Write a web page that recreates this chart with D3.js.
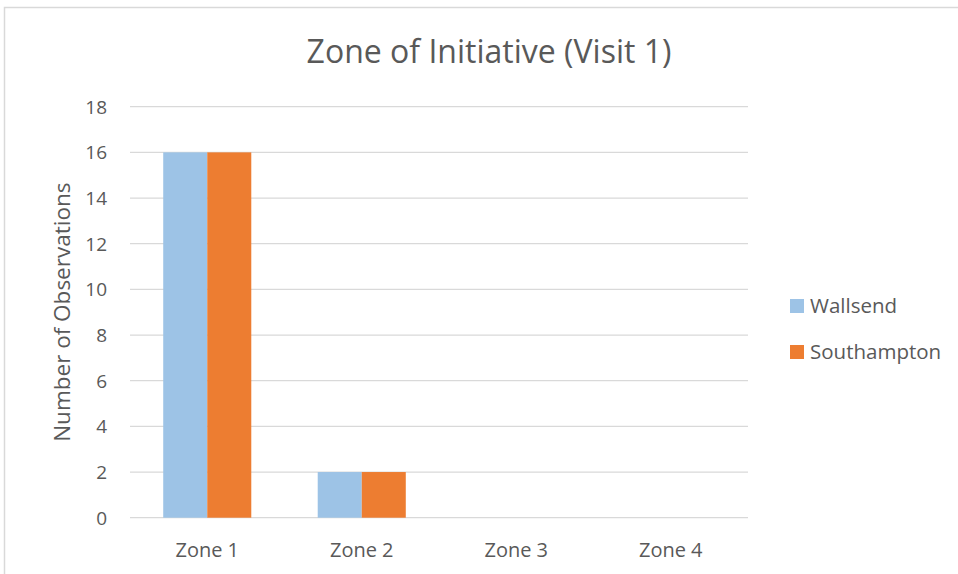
<!DOCTYPE html>
<html>
<head>
<meta charset="utf-8">
<script src="https://cdn.jsdelivr.net/npm/d3@7"></script>
<style>
  body { margin: 0; background: #fff; }
  text { font-family: "Open Sans", sans-serif; fill: #595959; }
</style>
</head>
<body>
<svg id="chart" width="958" height="574"></svg>
<script>
var zones = ["Zone 1", "Zone 2", "Zone 3", "Zone 4"];
var seriesNames = ["Wallsend", "Southampton"];
var wallsend = [16, 2, 0, 0];
var southampton = [16, 2, 0, 0];
var yTicks = [0, 2, 4, 6, 8, 10, 12, 14, 16, 18];
var colors = ["#9DC3E6", "#ED7D31"];

var svg = d3.select("#chart");

// chart border (runs past the right/bottom edges)
svg.append("rect")
  .attr("x", 4.5).attr("y", 7.5)
  .attr("width", 1000).attr("height", 600)
  .attr("fill", "none").attr("stroke", "#d9d9d9").attr("stroke-width", 1.5);

var plotLeft = 130, plotRight = 748, plotTop = 106.7, plotBottom = 517.7;

var x0 = d3.scaleBand().domain(zones).range([plotLeft, plotRight])
  .paddingInner(0.43).paddingOuter(0.215);
var x1 = d3.scaleBand().domain(seriesNames).range([0, x0.bandwidth()]);
var y = d3.scaleLinear().domain([0, 18]).range([plotBottom, plotTop]);
var color = d3.scaleOrdinal().domain(seriesNames).range(colors);

// gridlines
svg.append("g").selectAll("line").data(yTicks).enter().append("line")
  .attr("x1", plotLeft).attr("x2", plotRight)
  .attr("y1", function(d) { return y(d); })
  .attr("y2", function(d) { return y(d); })
  .attr("stroke", "#d9d9d9").attr("stroke-width", 1.3);

// y labels
svg.append("g").selectAll("text").data(yTicks).enter().append("text")
  .attr("x", 107)
  .attr("y", function(d) { return y(d); })
  .attr("dy", "0.36em")
  .attr("text-anchor", "end")
  .style("font-size", "19px")
  .text(function(d) { return d; });

// bars
var rows = zones.map(function(z, i) {
  return { zone: z, values: [
    { name: "Wallsend", value: wallsend[i] },
    { name: "Southampton", value: southampton[i] }
  ] };
});

svg.append("g").selectAll("g").data(rows).enter().append("g")
  .attr("transform", function(d) { return "translate(" + x0(d.zone) + ",0)"; })
  .selectAll("rect").data(function(d) { return d.values; }).enter().append("rect")
  .attr("x", function(d) { return x1(d.name); })
  .attr("width", x1.bandwidth())
  .attr("y", function(d) { return y(d.value); })
  .attr("height", function(d) { return plotBottom - y(d.value); })
  .attr("fill", function(d) { return color(d.name); });

// x labels
svg.append("g").selectAll("text").data(zones).enter().append("text")
  .attr("x", function(d) { return x0(d) + x0.bandwidth() / 2; })
  .attr("y", 557)
  .attr("text-anchor", "middle")
  .style("font-size", "20px")
  .text(function(d) { return d; });

// title
svg.append("text")
  .attr("x", 489).attr("y", 63)
  .attr("text-anchor", "middle")
  .style("font-size", "32px")
  .text("Zone of Initiative (Visit 1)");

// y axis title
svg.append("text")
  .attr("transform", "translate(70," + ((plotTop + plotBottom) / 2) + ") rotate(-90)")
  .attr("text-anchor", "middle")
  .style("font-size", "22.5px")
  .text("Number of Observations");

// legend
var legend = svg.append("g").selectAll("g").data(seriesNames).enter().append("g")
  .attr("transform", function(d, i) { return "translate(790," + (299 + i * 46) + ")"; });
legend.append("rect")
  .attr("width", 14).attr("height", 14)
  .attr("fill", function(d) { return color(d); });
legend.append("text")
  .attr("x", 20).attr("y", 14)
  .style("font-size", "20.5px")
  .text(function(d) { return d; });
</script>
</body>
</html>
